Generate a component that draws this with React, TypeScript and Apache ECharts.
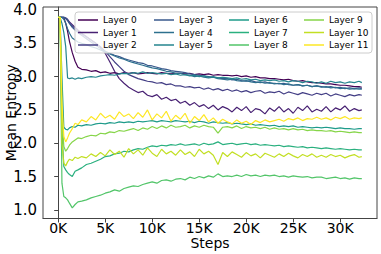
import React, { useEffect, useRef } from "react";
import * as echarts from "echarts";

const steps = [
  0, 200, 400, 600, 800, 1000, 1200, 1500, 1800, 2100, 2500,
  3000, 3500, 4000, 4500, 5000, 5500, 6000, 6500, 7000, 7500,
  8000, 8500, 9000, 9500, 10000, 10500, 11000, 11500, 12000, 12500,
  13000, 13500, 14000, 14500, 15000, 15500, 16000, 16500, 17000, 17500,
  18000, 18500, 19000, 19500, 20000, 20500, 21000, 21500, 22000, 22500,
  23000, 23500, 24000, 24500, 25000, 25500, 26000, 26500, 27000, 27500,
  28000, 28500, 29000, 29500, 30000, 30500, 31000, 31500, 32000, 32300,
];

const layer0 = [
  3.89, 3.89, 3.89, 3.88, 3.8, 3.68, 3.53, 3.36, 3.23, 3.14, 3.11,
  3.1, 3.08, 3.09, 3.06, 3.07, 3.05, 3.06, 3.04, 3.06, 3.05,
  3.06, 3.04, 3.05, 3.06, 3.05, 3.04, 3.06, 3.05, 3.04, 3.05,
  3.05, 3.04, 3.05, 3.03, 3.04, 3.03, 3.04, 3.02, 3.03, 3.02,
  3.02, 3.01, 3.02, 3.0, 3.01, 2.99, 3.0, 2.98, 2.98, 2.97,
  2.97, 2.96, 2.95, 2.96, 2.94, 2.93, 2.94, 2.92, 2.91, 2.91,
  2.9, 2.89, 2.89, 2.88, 2.87, 2.87, 2.86, 2.85, 2.85, 2.84,
];
const layer1 = [
  3.89, 3.89, 3.89, 3.89, 3.88, 3.86, 3.82, 3.78, 3.74, 3.7, 3.65,
  3.6, 3.55, 3.5, 3.44, 3.35, 3.22, 3.08, 2.97, 2.9, 2.84,
  2.8, 2.76, 2.78, 2.72, 2.7, 2.73, 2.66, 2.69, 2.64, 2.66,
  2.6, 2.63, 2.57, 2.61, 2.55, 2.58, 2.52, 2.57, 2.5, 2.55,
  2.52, 2.47, 2.54, 2.49, 2.55, 2.46, 2.52, 2.5, 2.44, 2.53,
  2.48, 2.55, 2.47, 2.52, 2.45, 2.54, 2.49, 2.56, 2.47, 2.51,
  2.48, 2.55, 2.47, 2.53, 2.5, 2.56, 2.48, 2.52, 2.49, 2.5,
];
const layer2 = [
  3.89, 3.89, 3.89, 3.89, 3.87, 3.84, 3.8, 3.76, 3.72, 3.68, 3.64,
  3.6, 3.55, 3.5, 3.45, 3.38, 3.3, 3.22, 3.15, 3.08, 3.03,
  3.0, 2.97, 2.95, 2.93, 2.92, 2.9, 2.91, 2.88, 2.89, 2.86,
  2.86, 2.84, 2.85, 2.83, 2.84, 2.81, 2.83, 2.8, 2.82, 2.79,
  2.81, 2.78, 2.8, 2.77, 2.79, 2.76, 2.78, 2.79, 2.75, 2.77,
  2.76, 2.78, 2.74, 2.77, 2.75, 2.73, 2.76, 2.74, 2.72, 2.75,
  2.73, 2.75, 2.71, 2.74, 2.72, 2.7, 2.73, 2.71, 2.73, 2.72,
];
const layer3 = [
  3.89, 3.89, 3.89, 3.89, 3.88, 3.85, 3.8, 3.74, 3.7, 3.66, 3.62,
  3.57, 3.52, 3.47, 3.42, 3.38, 3.35, 3.32, 3.3, 3.27, 3.25,
  3.23, 3.21, 3.2, 3.17, 3.16, 3.14, 3.12, 3.11, 3.09, 3.08,
  3.07, 3.06, 3.04, 3.03, 3.02, 3.01, 3.0, 2.99, 2.98, 2.97,
  2.97, 2.95, 2.96, 2.94, 2.93, 2.94, 2.92, 2.91, 2.92, 2.9,
  2.9, 2.89, 2.9, 2.88, 2.87, 2.88, 2.86, 2.87, 2.85, 2.86,
  2.85, 2.84, 2.85, 2.83, 2.84, 2.82, 2.83, 2.82, 2.83, 2.82,
];
const layer4 = [
  3.89, 3.89, 3.89, 3.86, 3.8, 3.72, 3.65, 3.58, 3.55, 3.52, 3.5,
  3.48, 3.45, 3.43, 3.4, 3.37, 3.34, 3.31, 3.28, 3.26, 3.23,
  3.21, 3.19, 3.17, 3.15, 3.13, 3.12, 3.1, 3.08, 3.07, 3.05,
  3.05, 3.03, 3.02, 3.0, 3.01, 2.99, 2.98, 2.99, 2.97, 2.96,
  2.95, 2.96, 2.94, 2.93, 2.94, 2.92, 2.91, 2.92, 2.9, 2.91,
  2.89, 2.9, 2.88, 2.89, 2.87, 2.88, 2.86, 2.87, 2.85, 2.86,
  2.84, 2.85, 2.83, 2.84, 2.82, 2.83, 2.81, 2.82, 2.81, 2.81,
];
const layer5 = [
  3.89, 3.89, 3.8, 3.66, 3.45, 2.98, 2.97, 2.98, 2.96, 2.98, 2.97,
  2.99, 3.0, 2.99, 3.01, 3.02, 3.03, 3.02, 3.04, 3.05, 3.04,
  3.06, 3.05, 3.07, 3.05, 3.06, 3.05, 3.04, 3.05, 3.03, 3.04,
  3.02, 3.03, 3.01, 3.02, 3.0, 3.01, 2.99, 3.0, 2.98, 2.99,
  2.98, 2.97, 2.98, 2.96, 2.97, 2.95, 2.96, 2.94, 2.95, 2.94,
  2.95, 2.93, 2.94, 2.92, 2.94, 2.93, 2.91, 2.93, 2.92, 2.9,
  2.92, 2.9, 2.93, 2.91, 2.92, 2.9, 2.92, 2.91, 2.93, 2.91,
];
const layer6 = [
  3.89, 3.89, 3.0, 2.24, 2.21, 2.2, 2.23, 2.25, 2.24, 2.27, 2.26,
  2.28, 2.27, 2.29, 2.3, 2.29, 2.31, 2.3, 2.32, 2.31, 2.32,
  2.31, 2.33, 2.32, 2.33, 2.34, 2.32, 2.34, 2.33, 2.32, 2.34,
  2.33, 2.32, 2.33, 2.31, 2.33, 2.32, 2.3, 2.32, 2.31, 2.3,
  2.31, 2.29, 2.3, 2.29, 2.28, 2.29, 2.27, 2.28, 2.27, 2.26,
  2.27, 2.25, 2.26, 2.25, 2.26, 2.24, 2.25, 2.24, 2.23, 2.24,
  2.23, 2.24, 2.23, 2.22, 2.23, 2.22, 2.22, 2.21, 2.22, 2.22,
];
const layer7 = [
  3.89, 3.89, 2.2, 1.65, 1.6, 1.56, 1.53, 1.5, 1.58, 1.6, 1.63,
  1.68, 1.7, 1.73, 1.76, 1.8, 1.81, 1.84, 1.85, 1.88, 1.87,
  1.9, 1.92, 1.91, 1.94, 1.96, 1.95, 1.97, 1.96, 1.98, 1.97,
  1.99, 1.97, 1.98, 1.99, 1.97, 2.0, 1.98, 1.99, 2.02, 1.98,
  1.99, 2.0, 1.98, 1.99, 2.0, 1.98, 1.99, 1.97, 1.98, 1.97,
  1.96, 1.97, 1.95, 1.96, 1.95, 1.94, 1.95, 1.93, 1.94, 1.93,
  1.92, 1.93, 1.92, 1.91, 1.92, 1.91, 1.9, 1.91, 1.9, 1.9,
];
const layer8 = [
  3.89, 3.89, 1.4, 1.2, 1.18, 1.15, 1.1, 1.03, 1.08, 1.12, 1.13,
  1.15, 1.18, 1.2, 1.22, 1.25, 1.27, 1.3, 1.28, 1.32, 1.34,
  1.36, 1.35, 1.38, 1.4, 1.42, 1.4, 1.44, 1.45, 1.43, 1.46,
  1.47, 1.45, 1.49, 1.47, 1.5, 1.48, 1.51, 1.49, 1.54, 1.5,
  1.51, 1.5, 1.52, 1.5, 1.53, 1.51, 1.52, 1.5, 1.52, 1.51,
  1.52, 1.5, 1.51, 1.49, 1.51, 1.5, 1.49, 1.5, 1.48, 1.49,
  1.49, 1.47, 1.48, 1.49, 1.47, 1.48, 1.46, 1.48, 1.47, 1.47,
];
const layer9 = [
  3.89, 3.89, 2.4, 1.95, 1.88, 1.92, 1.97, 2.02, 2.05, 2.08, 2.07,
  2.1, 2.12, 2.11, 2.15, 2.14, 2.17, 2.16, 2.19, 2.18, 2.2,
  2.22, 2.19, 2.23, 2.21, 2.25, 2.22, 2.26, 2.23, 2.27, 2.24,
  2.25, 2.27, 2.23, 2.26, 2.24, 2.27, 2.25, 2.24, 2.15, 2.24,
  2.25, 2.23, 2.26, 2.22, 2.25, 2.23, 2.24, 2.22, 2.24, 2.21,
  2.23, 2.21, 2.22, 2.2, 2.22, 2.2, 2.21, 2.19, 2.2, 2.19,
  2.19, 2.18, 2.19, 2.17, 2.18, 2.17, 2.16, 2.17, 2.16, 2.16,
];
const layer10 = [
  3.89, 3.89, 2.0, 1.7, 1.66, 1.72, 1.76, 1.74, 1.79, 1.77, 1.8,
  1.78, 1.84, 1.8, 1.86, 1.81, 1.9, 1.83, 1.88, 1.79, 1.92,
  1.84, 1.9, 1.82, 1.93, 1.85, 1.8, 1.91, 1.84, 1.88, 1.82,
  1.9, 1.83, 1.87, 1.8, 1.91, 1.84, 1.88, 1.82, 1.68, 1.86,
  1.8, 1.87, 1.83, 1.79, 1.86, 1.81, 1.84, 1.78, 1.85, 1.82,
  1.79, 1.84, 1.8, 1.85, 1.81, 1.78, 1.83, 1.8, 1.84, 1.79,
  1.82, 1.79, 1.83, 1.8, 1.82, 1.78, 1.81, 1.83, 1.79, 1.8,
];
const layer11 = [
  3.89, 3.89, 2.6, 2.1, 2.02, 2.08, 2.15, 2.22, 2.3, 2.28, 2.35,
  2.32, 2.4, 2.35, 2.45, 2.38, 2.42, 2.36, 2.47, 2.4, 2.44,
  2.37, 2.46, 2.39, 2.5, 2.35, 2.44, 2.38, 2.48, 2.33, 2.42,
  2.36, 2.45, 2.3, 2.4, 2.34, 2.43, 2.32, 2.38, 2.3, 2.36,
  2.32, 2.29, 2.35, 2.3, 2.33, 2.28, 2.34, 2.31, 2.35, 2.32,
  2.34, 2.36, 2.33, 2.37, 2.35, 2.38, 2.34, 2.37, 2.36, 2.39,
  2.36, 2.38, 2.35, 2.39, 2.37, 2.4, 2.36, 2.38, 2.37, 2.38,
];

const layers = [layer0, layer1, layer2, layer3, layer4, layer5, layer6, layer7, layer8, layer9, layer10, layer11];
const layerNames = layers.map((_, i) => `Layer ${i}`);
const colors = [
  "#440154", "#482173", "#433e85", "#38588c", "#2d708e", "#25858e",
  "#1e9b8a", "#2ab07f", "#52c569", "#86d549", "#c2df23", "#fde725",
];
const xTicks = [0, 5000, 10000, 15000, 20000, 25000, 30000];
const yTicks = [1.0, 1.5, 2.0, 2.5, 3.0, 3.5, 4.0];

const FONT = "DejaVu Sans";

export default function App() {
  const ref = useRef<HTMLDivElement>(null);
  useEffect(() => {
    if (!ref.current) return;
    const chart = echarts.init(ref.current, undefined, { renderer: "svg" });
    const legendLefts = [78, 154, 229, 304];
    chart.setOption({
      animation: false,
      backgroundColor: "#ffffff",
      grid: {
        left: 43, right: 4, top: 7, bottom: 35.5,
        show: true, borderColor: "#444", borderWidth: 1,
        containLabel: false, outerBoundsMode: "none",
      },
      xAxis: {
        type: "value", min: -1615, max: 33915,
        name: "Steps", nameLocation: "middle", nameGap: 17.5, nameMoveOverlap: false,
        nameTextStyle: { fontFamily: FONT, fontSize: 14, color: "#000", verticalAlign: "top" },
        axisLine: { show: true, lineStyle: { color: "#444", width: 1 } },
        axisTick: { show: true, length: 4, lineStyle: { color: "#444" }, customValues: xTicks },
        axisLabel: {
          customValues: xTicks, margin: 2, fontFamily: FONT, fontSize: 14, color: "#000",
          formatter: (v: number) => `${Math.round(v / 1000)}K`,
        },
        splitLine: { show: false },
      },
      yAxis: {
        type: "value", min: 0.87, max: 4.045,
        name: "Mean Entropy", nameLocation: "middle", nameGap: 32, nameMoveOverlap: false,
        nameTextStyle: { fontFamily: FONT, fontSize: 14, color: "#000", verticalAlign: "middle" },
        axisLine: { show: true, lineStyle: { color: "#444", width: 1 } },
        axisTick: { show: true, length: 4, lineStyle: { color: "#444" }, customValues: yTicks },
        axisLabel: {
          customValues: yTicks, margin: 6, fontFamily: FONT, fontSize: 15, color: "#000",
          formatter: (v: number) => v.toFixed(1),
        },
        splitLine: { show: false },
      },
      graphic: [
        {
          type: "rect", z: 9, zlevel: 0,
          shape: { x: 75, y: 12, width: 297, height: 41, r: 3 },
          style: { fill: "rgba(255,255,255,0.8)", stroke: "#cccccc", lineWidth: 1 },
        },
      ],
      legend: legendLefts.map((left, c) => ({
        data: [0, 1, 2].map((r) => layerNames[c * 3 + r]),
        orient: "vertical", left, top: 13.75, padding: 0,
        itemWidth: 20, itemHeight: 1.5, icon: "rect", itemGap: 0,
        selectedMode: false, z: 10,
        textStyle: { fontFamily: FONT, fontSize: 9, lineHeight: 12.5, color: "#000" },
      })),
      series: layers.map((vals, i) => ({
        type: "line", name: layerNames[i],
        data: steps.map((s, j) => [s, vals[j]]),
        symbol: "none", showSymbol: false,
        lineStyle: { width: 1.2, color: colors[i] },
        itemStyle: { color: colors[i] },
        z: 2,
      })),
    });
    return () => chart.dispose();
  }, []);
  return (
    <div
      ref={ref}
      style={{ position: "absolute", left: 0, top: 0, width: 381, height: 254 }}
    />
  );
}
